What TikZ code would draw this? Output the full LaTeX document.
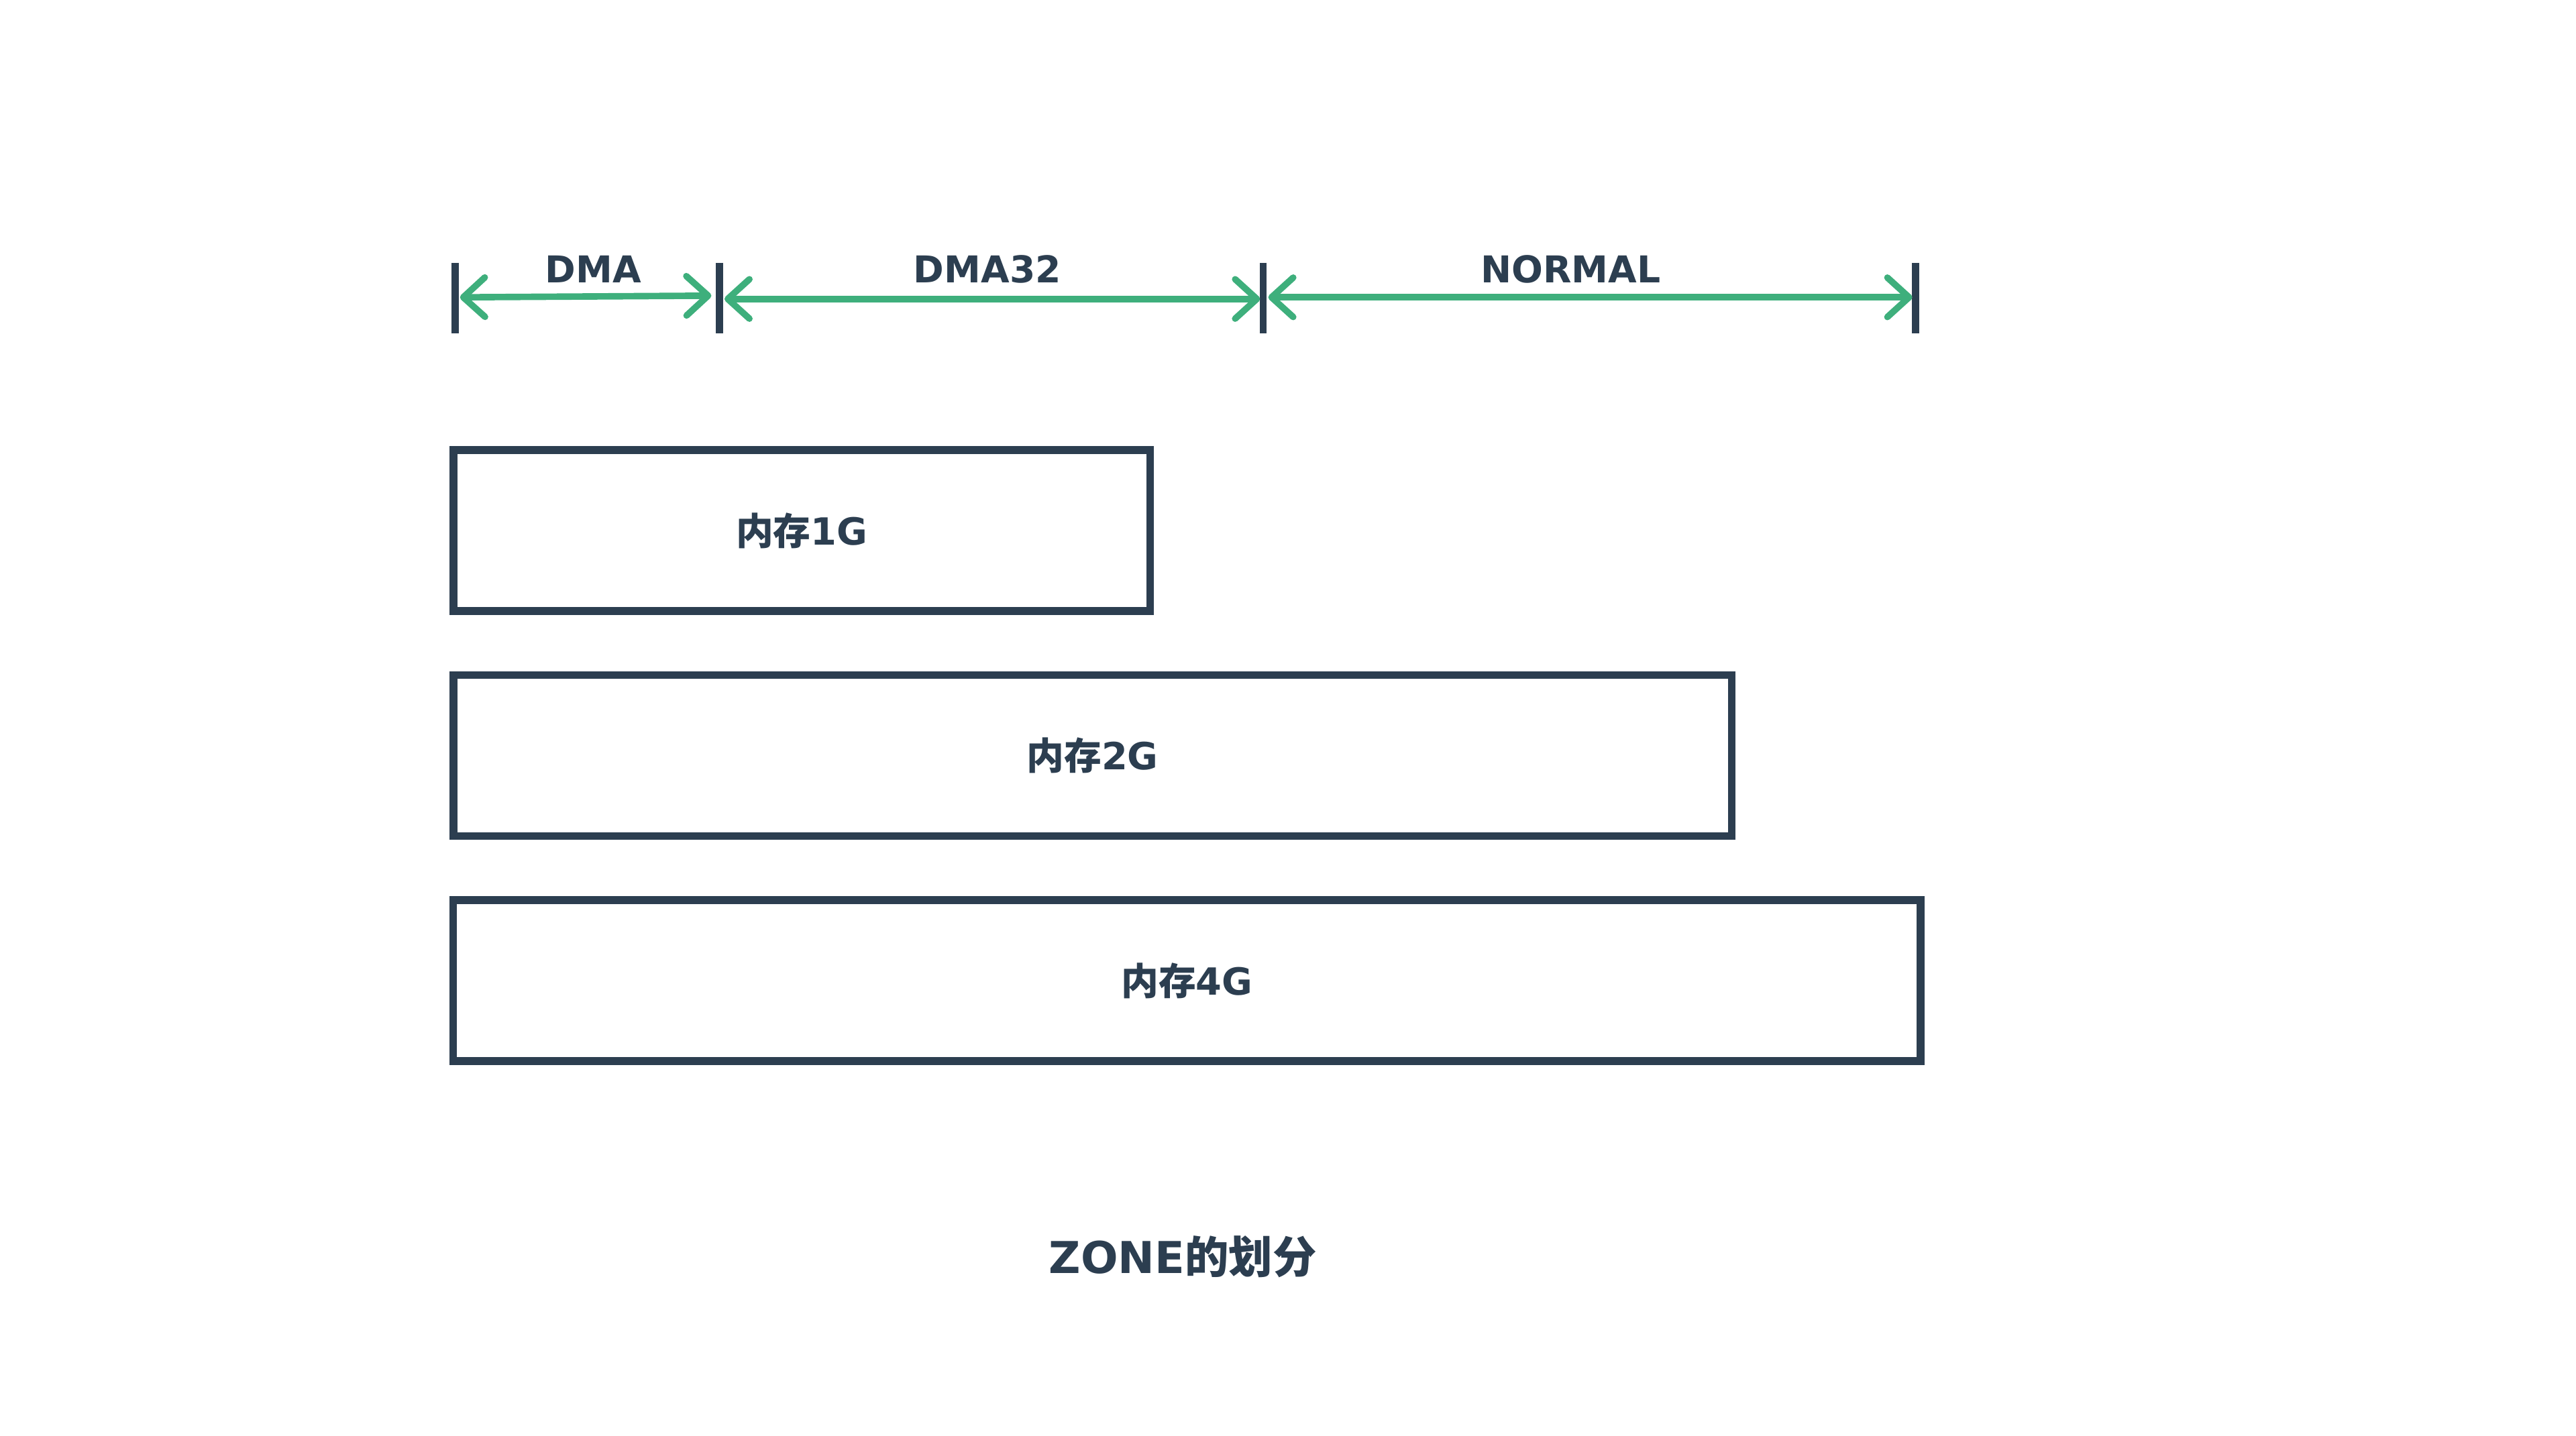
\documentclass[tikz,border=0pt]{standalone}
\usepackage{fontspec}
\setmainfont{DejaVu Sans}
\newfontfamily\cjk{Noto Sans CJK SC}
\usetikzlibrary{arrows.meta}
\definecolor{ink}{HTML}{2C3E50}
\definecolor{zgreen}{HTML}{3EAF7C}
\tikzset{
  tick/.style={draw=ink, line width=3pt},
  span/.style={draw=zgreen, line width=2.8pt, {Straight Barb[length=0.33cm,width=0.6cm,round]}-{Straight Barb[length=0.33cm,width=0.6cm,round]}},
  lbl/.style={text=ink, font=\bfseries\fontsize{16}{18}\selectfont, inner sep=0pt},
  membox/.style={draw=ink, line width=3.4pt, minimum height=2.45cm, inner sep=0pt, text=ink, font=\bfseries\fontsize{16.2}{18}\selectfont}
}
\begin{document}
\begin{tikzpicture}[x=0.025cm, y=-0.025cm]
\useasboundingbox (0,0) rectangle (1568,874);
% ticks
\coordinate (t1a) at (277,160); \coordinate (t1b) at (277,203);
\coordinate (t2a) at (438,160); \coordinate (t2b) at (438,203);
\coordinate (t3a) at (769,160); \coordinate (t3b) at (769,203);
\coordinate (t4a) at (1166,160); \coordinate (t4b) at (1166,203);
\draw[tick] (t1a) -- (t1b);
\draw[tick] (t2a) -- (t2b);
\draw[tick] (t3a) -- (t3b);
\draw[tick] (t4a) -- (t4b);
% spans
\coordinate (a1) at (280,181); \coordinate (a2) at (433,180);
\coordinate (b1) at (441,182); \coordinate (b2) at (767,182);
\coordinate (c1) at (772,181); \coordinate (c2) at (1164,181);
\draw[span] (a1) -- (a2);
\draw[span] (b1) -- (b2);
\draw[span] (c1) -- (c2);
\node[lbl] (ldma) at (361,164) {DMA};
\node[lbl] (ldma32) at (601,164) {DMA32};
\node[lbl] (lnormal) at (956,164) {NORMAL};
% boxes
\node[membox, minimum width=10.6cm] (m1) at (488,323) {{\cjk\bfseries 内存}1G};
\node[membox, minimum width=19.45cm] (m2) at (665,460) {{\cjk\bfseries 内存}2G};
\node[membox, minimum width=22.325cm] (m3) at (722.5,597) {{\cjk\bfseries 内存}4G};
% title
\node[text=ink, font=\bfseries\fontsize{19}{22}\selectfont, inner sep=0pt] (title) at (720,765) {ZONE{\cjk\bfseries 的划分}};
\end{tikzpicture}
\end{document}
